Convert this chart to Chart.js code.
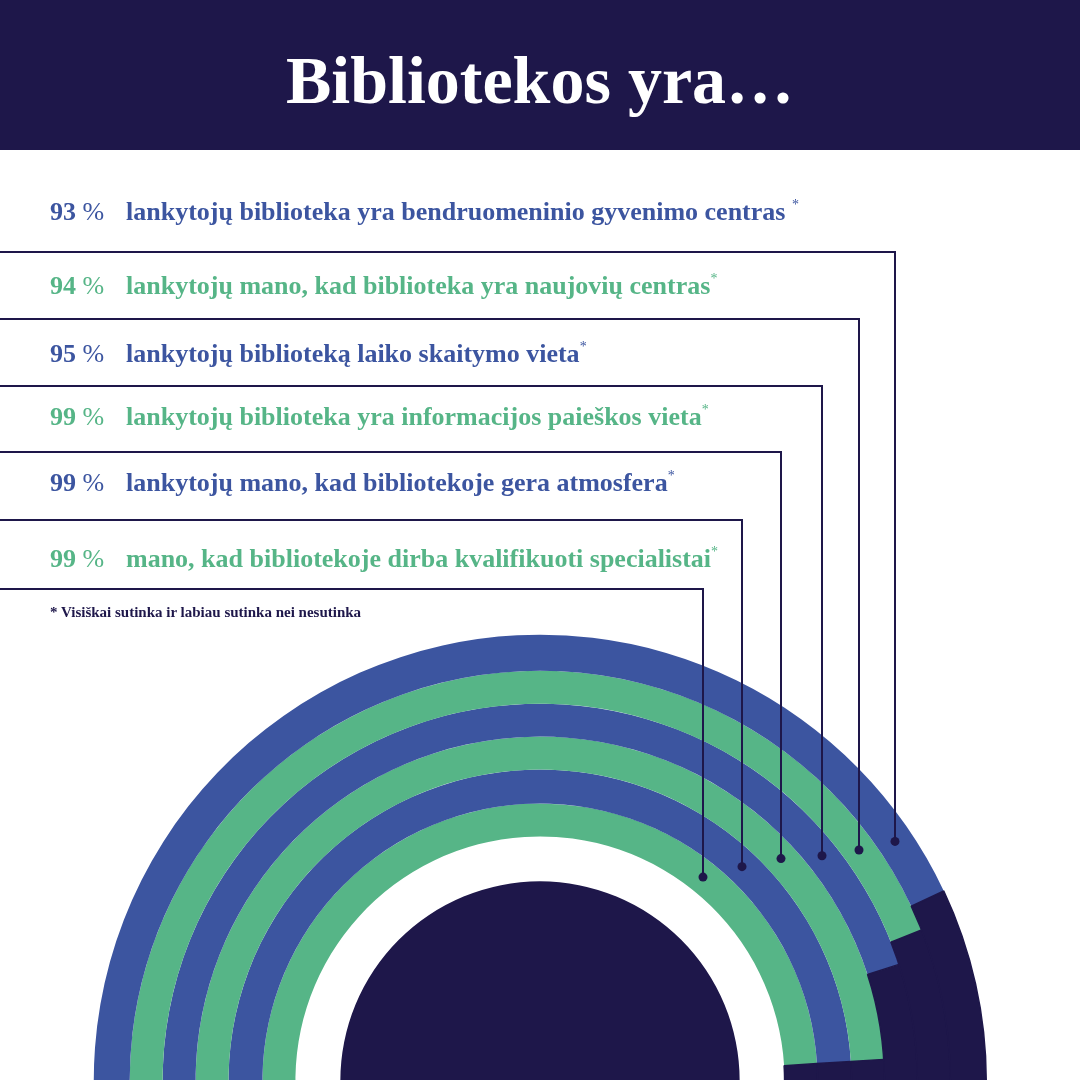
<!DOCTYPE html>
<html lang="lt">
<head>
<meta charset="utf-8">
<title>Bibliotekos yra…</title>
<script src="https://cdn.jsdelivr.net/npm/chart.js@4.4.1/dist/chart.umd.min.js"></script>
<style>
  html, body { margin: 0; padding: 0; }
  body {
    width: 1080px; height: 1080px; overflow: hidden; position: relative;
    background: #fff; font-family: "Liberation Serif", "DejaVu Serif", serif;
  }
  #head { position: absolute; left: 0; top: 0; width: 1080px; height: 150px; background: #1e174a; }
  #title {
    position: absolute; left: 0; top: 46px; width: 1080px; margin: 0;
    text-align: center; color: #fff; font-weight: bold; font-size: 68px; line-height: 68px;
  }
  #chart { position: absolute; left: 0; top: 0; }
  .row { position: absolute; left: 0; width: 1080px; font-size: 26px; line-height: 26px; font-weight: bold; white-space: nowrap; }
  .pct { position: absolute; left: 50px; }
  .pct span { font-weight: normal; }
  .lbl { position: absolute; left: 126px; }
  .lbl sup { font-weight: normal; font-size: 14px; vertical-align: 0; position: relative; top: -11px; }
  #note {
    position: absolute; left: 50px; top: 605px; color: #1e174a;
    font-size: 15px; line-height: 15px; font-weight: bold; white-space: nowrap;
  }
</style>
</head>
<body>
<div id="head"><h1 id="title"></h1></div>
<canvas id="chart" width="1080" height="1528"></canvas>
<div id="rows"></div>
<div id="note"></div>
<script>
const title = 'Bibliotekos yra…';
const percents = [93, 94, 95, 99, 99, 99];
const labels = [
    'lankytojų biblioteka yra bendruomeninio gyvenimo centras *',
    'lankytojų mano, kad biblioteka yra naujovių centras*',
    'lankytojų biblioteką laiko skaitymo vieta*',
    'lankytojų biblioteka yra informacijos paieškos vieta*',
    'lankytojų mano, kad bibliotekoje gera atmosfera*',
    'mano, kad bibliotekoje dirba kvalifikuoti specialistai*'
];
const note = '* Visiškai sutinka ir labiau sutinka nei nesutinka';

// styles / layout
const NAVY = '#1e174a', BLUE = '#3c55a0', GREEN = '#56b587';
const ringColors = [BLUE, GREEN, BLUE, GREEN, BLUE, GREEN];
const ringWeights = [36, 33, 33, 33, 34, 33];
const gapWeight = 45, coreWeight = 200;
const rowBaselines = [221, 295, 363, 426, 492, 568];
const leaderY = [252, 319, 386, 452, 520, 589];
const leaderX = [895, 859, 822, 781, 742, 703];

document.getElementById('title').textContent = title;
document.getElementById('note').textContent = note;

const rows = document.getElementById('rows');
labels.forEach((text, i) => {
    const row = document.createElement('div');
    row.className = 'row';
    row.style.top = (rowBaselines[i] - 22) + 'px';
    row.style.color = ringColors[i];
    const pct = document.createElement('div');
    pct.className = 'pct';
    pct.innerHTML = percents[i] + '<span> %</span>';
    const lbl = document.createElement('div');
    lbl.className = 'lbl';
    lbl.textContent = text.replace(/\*$/, '');
    const sup = document.createElement('sup');
    sup.textContent = '*';
    lbl.appendChild(sup);
    row.appendChild(pct);
    row.appendChild(lbl);
    rows.appendChild(row);
});

const leaders = {
    id: 'leaders',
    afterDatasetsDraw(chart) {
        const ctx = chart.ctx;
        ctx.save();
        ctx.strokeStyle = NAVY;
        ctx.fillStyle = NAVY;
        ctx.lineWidth = 2;
        percents.forEach((p, i) => {
            const arc = chart.getDatasetMeta(i).data[0];
            const r = (arc.innerRadius + arc.outerRadius) / 2;
            const dx = leaderX[i] - arc.x;
            const dotY = arc.y - Math.sqrt(r * r - dx * dx);
            ctx.beginPath();
            ctx.moveTo(0, leaderY[i]);
            ctx.lineTo(leaderX[i], leaderY[i]);
            ctx.lineTo(leaderX[i], dotY);
            ctx.stroke();
            ctx.beginPath();
            ctx.arc(leaderX[i], dotY, 4.5, 0, Math.PI * 2);
            ctx.fill();
        });
        ctx.restore();
    }
};

const flat = { hoverBorderWidth: 0, offset: 0, hoverOffset: 0 };

new Chart(document.getElementById('chart'), {
    type: 'doughnut',
    data: {
        labels: ['sutinka', 'kiti'],
        datasets: [
            ...percents.map((p, i) => Object.assign({
                data: [p, 100 - p],
                backgroundColor: [ringColors[i], NAVY],
                // thin navy edge on the remainder hides the seams between rings
                borderColor: [ringColors[i], NAVY],
                borderWidth: [0, 1.5],
                weight: ringWeights[i]
            }, flat)),
            Object.assign({ data: [100], backgroundColor: ['rgba(0,0,0,0)'], borderWidth: 0, weight: gapWeight }, flat),
            Object.assign({ data: [100], backgroundColor: [NAVY], borderWidth: 0, weight: coreWeight }, flat)
        ]
    },
    options: {
        responsive: false,
        animation: false,
        events: [],
        rotation: 90,
        circumference: 360,
        cutout: 0,
        layout: { padding: { left: 93, right: 93, top: 634, bottom: 0 } },
        plugins: {
            legend: { display: false },
            tooltip: { enabled: false }
        }
    },
    plugins: [leaders]
});
</script>
</body>
</html>
